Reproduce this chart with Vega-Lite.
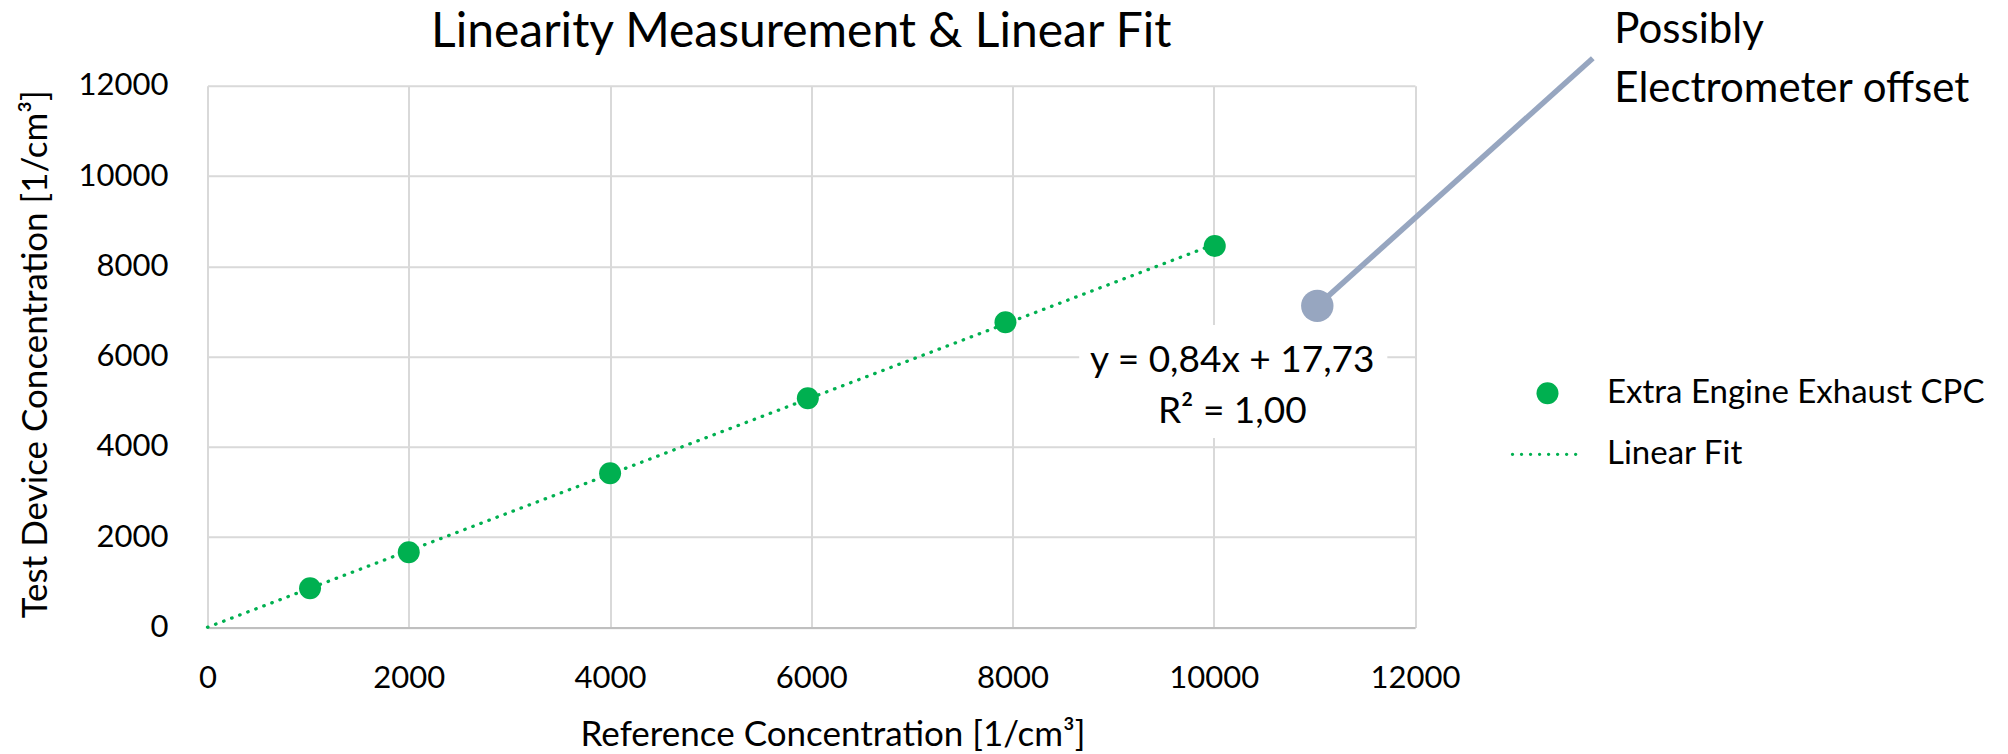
{
  "$schema": "https://vega.github.io/schema/vega-lite/v6.json",
  "autosize": {"type": "none"},
  "width": 1207.5,
  "height": 541.7,
  "padding": {"left": 207.5, "top": 85.8, "right": 592.5, "bottom": 126.5},
  "background": "white",
  "config": {"font": "Lato", "view": {"stroke": null}},
  "title": {"text": "Linearity Measurement & Linear Fit", "font": "Lato", "fontSize": 48, "fontWeight": "normal", "color": "#000000", "anchor": "middle", "frame": "group", "dx": -10, "offset": -48},
  "datasets": {
    "measured": [
      {"x": 1019, "y": 870, "series": "Extra Engine Exhaust CPC"},
      {"x": 2000, "y": 1666, "series": "Extra Engine Exhaust CPC"},
      {"x": 4001, "y": 3416, "series": "Extra Engine Exhaust CPC"},
      {"x": 5966, "y": 5078, "series": "Extra Engine Exhaust CPC"},
      {"x": 7930, "y": 6761, "series": "Extra Engine Exhaust CPC"},
      {"x": 10010, "y": 8451, "series": "Extra Engine Exhaust CPC"}
    ],
    "outlier": [{"x": 11029, "y": 7125}],
    "equation": [{"label": "y = 0,84x + 17,73\nR² = 1,00"}],
    "note": [{"label": "Possibly\nElectrometer offset"}]
  },
  "layer": [
    {
      "data": {"name": "measured"},
      "transform": [{"regression": "y", "on": "x", "extent": [0, 10010]}],
      "mark": {"type": "line", "color": "#00B050", "strokeWidth": 3.3, "strokeDash": [0.5, 8.1], "strokeCap": "round"},
      "encoding": {
        "x": {"field": "x", "type": "quantitative",
          "scale": {"domain": [0, 12000], "nice": false, "zero": false},
          "axis": {"title": "Reference Concentration [1/cm³]", "values": [0, 2000, 4000, 6000, 8000, 10000, 12000], "format": "d",
            "grid": true, "gridColor": "#D9D9D9", "gridWidth": 2, "domain": true, "domainColor": "#BFBFBF", "domainWidth": 2,
            "ticks": false, "tickSize": 0, "labelFont": "Lato", "labelFontSize": 31, "labelColor": "#000000", "labelPadding": 59.5,
            "labelBaseline": "alphabetic", "labelFlush": false, "labelOverlap": false,
            "titleFont": "Lato", "titleFontSize": 35, "titleFontWeight": "normal", "titleColor": "#000000",
            "titleX": 625, "titleY": 117.5, "titleAlign": "center", "titleBaseline": "alphabetic"}},
        "y": {"field": "y", "type": "quantitative",
          "scale": {"domain": [0, 12000], "nice": false, "zero": false},
          "axis": {"title": "Test Device Concentration [1/cm³]", "values": [0, 2000, 4000, 6000, 8000, 10000, 12000], "format": "d",
            "grid": true, "gridColor": "#D9D9D9", "gridWidth": 2, "domain": false,
            "ticks": false, "tickSize": 0, "labelFont": "Lato", "labelFontSize": 31, "labelColor": "#000000", "labelPadding": 39.5,
            "labelFlush": false, "labelOverlap": false,
            "titleFont": "Lato", "titleFontSize": 35, "titleFontWeight": "normal", "titleColor": "#000000",
            "titleX": -172.5, "titleY": 268, "titleAlign": "center", "titleBaseline": "middle", "titleAngle": -90}}
      }
    },
    {
      "data": {"name": "measured"},
      "mark": {"type": "point", "filled": true, "size": 484, "opacity": 1},
      "encoding": {
        "x": {"field": "x", "type": "quantitative"},
        "y": {"field": "y", "type": "quantitative"},
        "color": {"field": "series", "type": "nominal",
          "scale": {"domain": ["Extra Engine Exhaust CPC", "Linear Fit"], "range": ["#00B050", "#00B050"]},
          "legend": {"title": null, "orient": "none", "legendX": 1323.5, "legendY": 291, "padding": 0, "labelFont": "Lato", "labelFontSize": 33, "labelColor": "#000000", "labelLimit": 600, "symbolSize": 484, "rowPadding": 27, "labelOffset": 43, "symbolStrokeWidth": 0, "symbolOpacity": 1}},
        "shape": {"field": "series", "type": "nominal",
          "scale": {"domain": ["Extra Engine Exhaust CPC", "Linear Fit"], "range": ["circle", "M-3.33,0A0.15,0.15 0 1,0 -3.03,0A0.15,0.15 0 1,0 -3.33,0ZM-2.51,0A0.15,0.15 0 1,0 -2.21,0A0.15,0.15 0 1,0 -2.51,0ZM-1.69,0A0.15,0.15 0 1,0 -1.39,0A0.15,0.15 0 1,0 -1.69,0ZM-0.87,0A0.15,0.15 0 1,0 -0.57,0A0.15,0.15 0 1,0 -0.87,0ZM-0.05,0A0.15,0.15 0 1,0 0.25,0A0.15,0.15 0 1,0 -0.05,0ZM0.77,0A0.15,0.15 0 1,0 1.07,0A0.15,0.15 0 1,0 0.77,0ZM1.59,0A0.15,0.15 0 1,0 1.89,0A0.15,0.15 0 1,0 1.59,0ZM2.41,0A0.15,0.15 0 1,0 2.71,0A0.15,0.15 0 1,0 2.41,0Z"]},
          "legend": {"title": null, "orient": "none", "legendX": 1323.5, "legendY": 291, "padding": 0, "labelFont": "Lato", "labelFontSize": 33, "labelColor": "#000000", "labelLimit": 600, "symbolSize": 484, "rowPadding": 27, "labelOffset": 43, "symbolStrokeWidth": 0, "symbolOpacity": 1}}
      }
    },
    {
      "data": {"name": "outlier"},
      "mark": {"type": "rule", "color": "#97A6C0", "strokeWidth": 5.5},
      "encoding": {
        "x": {"field": "x", "type": "quantitative"},
        "y": {"field": "y", "type": "quantitative"},
        "x2": {"datum": 13767},
        "y2": {"datum": 12610}
      }
    },
    {
      "data": {"name": "outlier"},
      "mark": {"type": "point", "filled": true, "size": 1050, "opacity": 1, "color": "#97A6C0"},
      "encoding": {
        "x": {"field": "x", "type": "quantitative"},
        "y": {"field": "y", "type": "quantitative"}
      }
    },
    {
      "data": {"name": "equation"},
      "mark": {"type": "rect", "fill": "white"},
      "encoding": {
        "x": {"datum": 8663},
        "x2": {"datum": 11725},
        "y": {"datum": 6702},
        "y2": {"datum": 4198}
      }
    },
    {
      "data": {"name": "equation"},
      "mark": {"type": "text", "font": "Lato", "fontSize": 37, "color": "#000000", "align": "center", "baseline": "alphabetic", "lineBreak": "\n", "lineHeight": 51},
      "encoding": {
        "text": {"field": "label"},
        "x": {"datum": 10184},
        "y": {"datum": 5660}
      }
    },
    {
      "data": {"name": "note"},
      "mark": {"type": "text", "font": "Lato", "fontSize": 42, "color": "#000000", "align": "left", "baseline": "alphabetic", "lineBreak": "\n", "lineHeight": 59},
      "encoding": {
        "text": {"field": "label"},
        "x": {"datum": 13981},
        "y": {"datum": 12949}
      }
    }
  ]
}
